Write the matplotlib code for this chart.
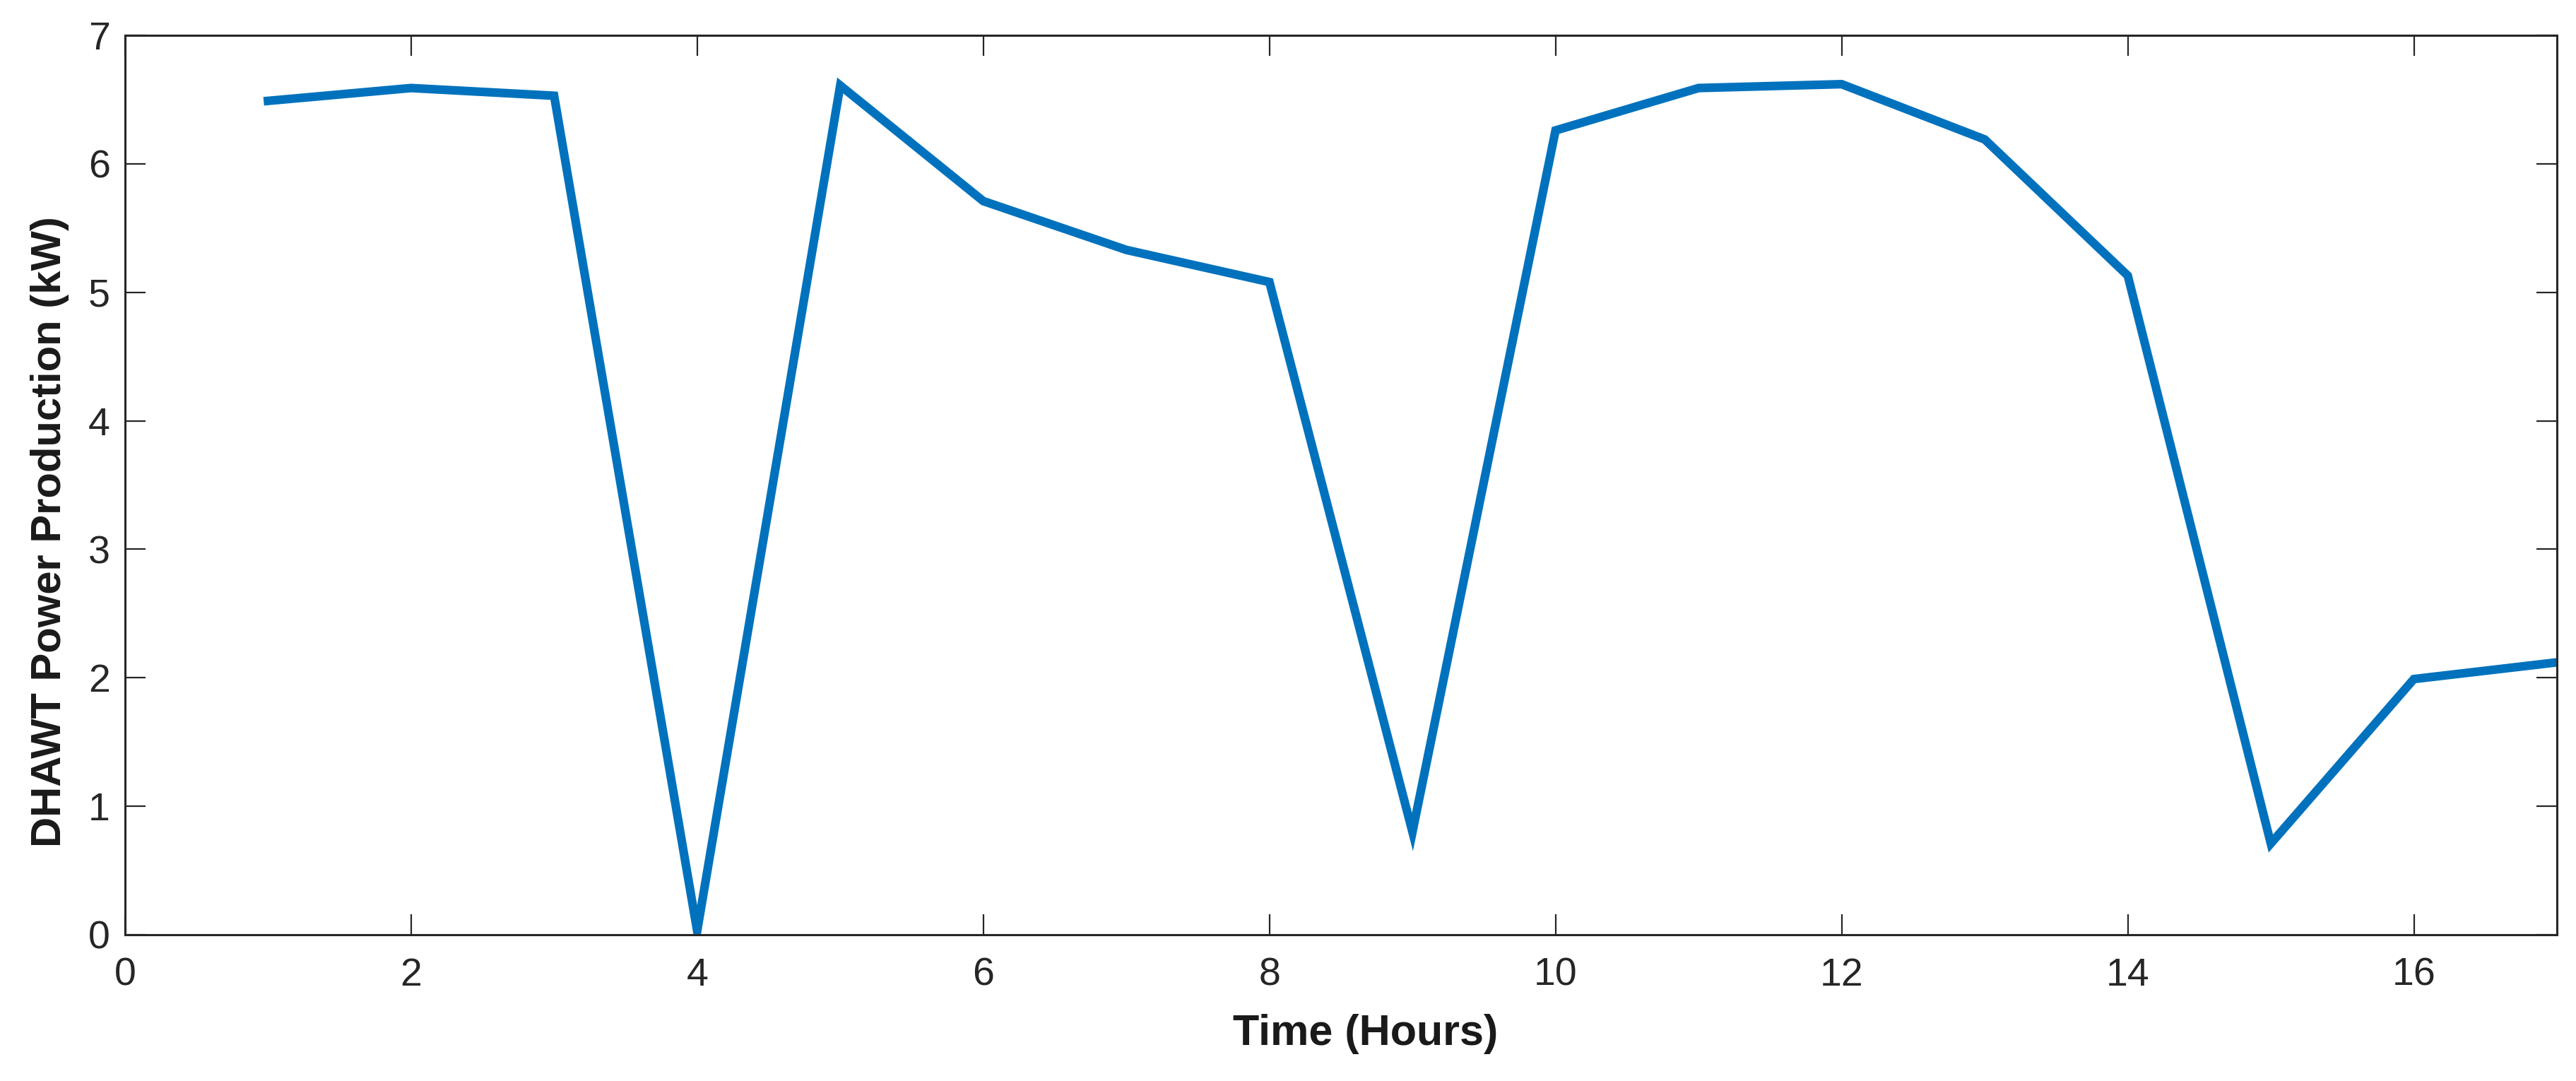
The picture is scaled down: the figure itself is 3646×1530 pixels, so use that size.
import matplotlib
matplotlib.use("Agg")
import matplotlib.pyplot as plt
from matplotlib import font_manager

# hourly DHAWT output
hours = [1, 2, 3, 4, 5, 6, 7, 8, 9, 10, 11, 12, 13, 14, 15, 16, 17]
power_kw = [6.49, 6.59, 6.53, 0.03, 6.61, 5.71, 5.33, 5.08, 0.80,
            6.26, 6.59, 6.62, 6.19, 5.13, 0.71, 1.99, 2.12]

x_ticks = [0, 2, 4, 6, 8, 10, 12, 14, 16]
y_ticks = [0, 1, 2, 3, 4, 5, 6, 7]

names = {f.name for f in font_manager.fontManager.ttflist}
font = "Liberation Sans" if "Liberation Sans" in names else "DejaVu Sans"
plt.rcParams["font.family"] = [font, "DejaVu Sans"]

axis_col = "#262626"
line_col = "#0072BD"

fig = plt.figure(figsize=(36.46, 15.30), dpi=100)
ax = fig.add_axes([0.0485, 0.1353, 0.9441, 0.8320])

ax.plot(hours, power_kw, color=line_col, linewidth=8.8, solid_joinstyle="miter")

ax.set_xlim(0, 17)
ax.set_ylim(0, 7)
ax.set_xticks(x_ticks)
ax.set_yticks(y_ticks)

for s in ax.spines.values():
    s.set_color(axis_col)
    s.set_linewidth(2.2)

ax.tick_params(axis="both", direction="in", length=21, width=1.6,
               color=axis_col, labelcolor=axis_col, labelsize=40,
               top=True, right=True)
ax.tick_params(axis="x", pad=23)
ax.tick_params(axis="y", pad=15)

ax.set_xlabel("Time (Hours)", fontsize=44, fontweight="bold", color="#1a1a1a")
ax.set_ylabel("DHAWT Power Production (kW)", fontsize=43, fontweight="bold",
              color="#1a1a1a")
ax.xaxis.set_label_coords(0.51, -0.088)
ax.yaxis.set_label_coords(-0.023, 0.448)

fig.savefig("out.png", dpi=100, facecolor="white")
